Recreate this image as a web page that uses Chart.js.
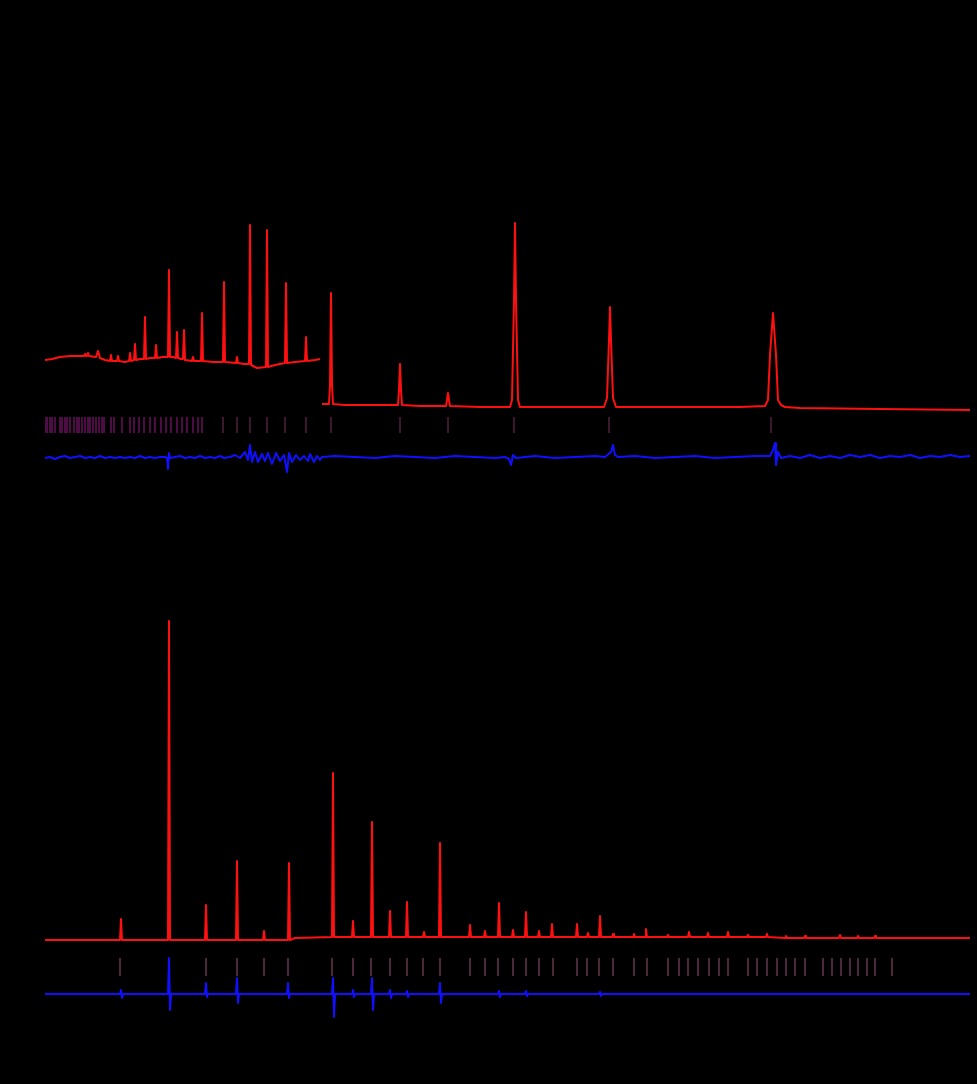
<!DOCTYPE html>
<html>
<head>
<meta charset="utf-8">
<script src="https://cdn.jsdelivr.net/npm/chart.js@4/dist/chart.umd.min.js"></script>
<style>
  html, body { margin: 0; padding: 0; background: #000; }
  #wrap { position: relative; width: 977px; height: 1084px; background: #000; }
  canvas { position: absolute; left: 0; display: block; }
  #top { top: 0; }
  #bottom { top: 542px; }
</style>
</head>
<body>
<div id="wrap">
  <canvas id="top" width="977" height="542"></canvas>
  <canvas id="bottom" width="977" height="542"></canvas>
</div>
<script>
// ---- top pattern: low-angle segment (observed/calculated, red)
const topLowTheta = [5.0, 5.7, 6.5, 7.5, 8.5, 8.9, 9.0, 9.1, 9.2, 9.3, 9.4, 10.1, 10.3, 10.5, 11.0,
  11.5, 11.6, 11.7, 12.2, 12.3, 12.4, 13.0, 13.4, 13.5, 13.6, 13.9, 14.0, 14.1, 14.5,
  14.9, 15.0, 15.1, 15.5, 16.0, 16.1, 16.2, 16.8, 17.3, 17.4, 17.5, 17.8, 18.1, 18.2, 18.3,
  18.6, 18.8, 18.9, 19.0, 19.7, 19.8, 19.9, 20.3, 20.6, 20.7, 20.8, 21.8, 22.8, 22.9, 23.0,
  24.1, 24.2, 24.3, 24.9, 25.4, 25.5, 25.6, 26.2, 27.1, 27.2, 27.3, 28.0, 29.0, 29.1, 29.2,
  30.0, 31.0, 31.1, 31.2, 32.0, 32.5];
const topLowInt = [120, 121, 123, 124, 124, 124, 126, 124, 124, 127, 124, 123, 129, 122, 120,
  119, 125, 119, 119, 124, 119, 118, 119, 127, 119, 120, 136, 120, 121,
  121, 163, 121, 122, 122, 135, 122, 123, 123, 210, 123, 123, 122, 148, 122,
  121, 121, 150, 120, 119, 123, 119, 119, 119, 167, 119, 118, 118, 198, 118,
  117, 123, 117, 116, 116, 255, 115, 112, 113, 250, 113, 115, 117, 197, 117,
  118, 119, 143, 119, 120, 121];

// ---- top pattern: high-angle segment (red)
const topHighTheta = [32.7, 33.4, 33.5, 33.6, 33.7, 33.8, 35.0, 38.5, 40.3, 40.4, 40.5, 40.6, 40.7,
  42.5, 45.1, 45.2, 45.3, 45.4, 45.5, 48.5, 51.5, 51.7, 51.9, 52.0, 52.1, 52.3, 52.5,
  56.5, 60.9, 61.2, 61.4, 61.5, 61.6, 61.8, 62.1, 68.5, 74.5, 77.0, 77.3, 77.5, 77.8,
  78.1, 78.3, 78.6, 79.0, 80.5, 88.5, 97.5];
const topHighInt = [76, 76, 95, 187, 95, 76, 75, 75, 75, 90, 116, 90, 75,
  74, 74, 80, 87, 80, 74, 73, 73, 80, 180, 257, 180, 80, 73,
  73, 73, 82, 140, 173, 140, 82, 73, 73, 73, 74, 80, 125, 167,
  125, 80, 75, 73, 72, 71, 70];

// ---- top difference curve (blue)
const topDiffTheta = [5.0, 5.5, 6.0, 6.5, 7.0, 7.5, 8.0, 8.5, 9.0, 9.5, 10.0, 10.5, 11.0, 11.5, 12.0,
  12.5, 13.0, 13.5, 14.0, 14.5, 15.0, 15.5, 16.0, 16.5, 17.0, 17.2, 17.3, 17.4, 17.5, 18.0,
  18.5, 19.0, 19.5, 20.0, 20.5, 21.0, 21.5, 22.0, 22.5, 22.9, 23.5, 24.0, 24.5, 25.0, 25.3,
  25.5, 25.7, 26.0, 26.3, 26.7, 27.0, 27.3, 27.7, 28.1, 28.5, 28.9, 29.2, 29.4, 29.7, 30.1,
  30.5, 30.9, 31.3, 31.5, 31.9, 32.2, 32.5, 32.7, 34.0, 36.0, 38.0, 40.0, 42.0, 44.0, 46.0,
  48.0, 50.0, 51.0, 51.4, 51.6, 51.8, 52.1, 54.0, 56.0, 58.0, 60.0, 61.0, 61.6, 61.8, 62.0,
  62.3, 64.0, 66.0, 68.0, 70.0, 72.0, 74.0, 76.0, 77.5, 77.8, 78.0, 78.1, 78.3,
  78.6, 79.5, 80.5, 81.5, 82.5, 83.5, 84.5, 85.5, 86.5, 87.5, 88.5, 89.5, 90.5, 91.5, 92.5,
  93.5, 94.5, 95.5, 96.5, 97.5];
const topDiffInt = [22, 23, 21, 23, 24, 22, 23, 24, 22, 23, 22, 24, 22, 23, 22,
  23, 22, 23, 22, 24, 22, 23, 22, 23, 23, 22, 11, 27, 22, 23,
  24, 22, 23, 22, 24, 22, 23, 22, 24, 22, 23, 25, 22, 28, 20,
  35, 18, 28, 18, 26, 19, 27, 16, 27, 19, 25, 8, 27, 18, 25,
  20, 24, 19, 26, 18, 24, 20, 23, 24, 23, 22, 24, 23, 22, 24,
  23, 22, 23, 21, 15, 25, 22, 24, 22, 23, 24, 23, 28, 35, 25,
  23, 24, 22, 23, 24, 22, 23, 24, 24, 30, 37, 15, 28,
  22, 24, 22, 25, 22, 24, 22, 25, 23, 25, 22, 24, 23, 25, 22,
  24, 23, 25, 23, 24];

// ---- top reflection markers
const topTicksA = [5.0, 5.2, 5.5, 5.7, 6.0, 6.5, 6.7, 7.0, 7.2, 7.5, 7.9, 8.2, 8.4, 8.7, 9.0, 9.3,
  9.5, 9.8, 10.1, 10.4, 10.7, 10.9, 11.6, 11.9, 12.7, 13.5, 13.9, 14.4, 14.9, 15.5, 16.0,
  16.6, 17.1, 17.6, 18.2, 18.7, 19.2, 19.8, 20.3, 20.7];
const topTicksB = [22.8, 24.2, 25.5, 27.2, 29.0, 31.1, 33.6, 40.5, 45.3, 51.9, 61.4, 77.6];
const topTickLevel = 55;

// ---- bottom pattern (red)
const botTheta = [5.0, 12.5, 12.6, 12.7, 17.3, 17.4, 17.5, 21.0, 21.1, 21.2, 24.1, 24.2, 24.3,
  26.8, 26.9, 27.0, 29.3, 29.4, 29.5, 30.0, 33.7, 33.8, 33.9, 35.7, 35.8, 35.9,
  37.6, 37.7, 37.8, 39.4, 39.5, 39.6, 41.1, 41.2, 41.3, 42.8, 42.9, 43.0, 44.4, 44.5, 44.6,
  47.4, 47.5, 47.6, 48.9, 49.0, 49.1, 50.3, 50.4, 50.5, 51.7, 51.8, 51.9, 53.0, 53.1, 53.2,
  54.3, 54.4, 54.5, 55.6, 55.7, 55.8, 58.1, 58.2, 58.3, 59.2, 59.3, 59.4, 60.4, 60.5, 60.6,
  61.7, 61.8, 61.9, 63.8, 63.9, 64.0, 65.0, 65.1, 65.2, 67.2, 67.3, 67.4, 69.3, 69.4, 69.5,
  71.2, 71.3, 71.4, 73.2, 73.3, 73.4, 75.2, 75.3, 75.4, 77.1, 77.2, 77.3, 79.0, 79.1, 79.2,
  80.9, 81.0, 81.1, 84.4, 84.5, 84.6, 86.2, 86.3, 86.4, 87.9, 88.0, 88.1, 97.5];
const botInt = [90, 90, 111, 90, 90, 409, 90, 90, 125, 90, 90, 169, 90,
  90, 99, 90, 90, 167, 90, 92, 93, 257, 93, 93, 109, 93,
  93, 208, 93, 93, 119, 93, 93, 128, 93, 93, 98, 93, 93, 187, 93,
  93, 105, 93, 93, 99, 93, 93, 127, 93, 93, 100, 93, 93, 118, 93,
  93, 99, 93, 93, 106, 93, 93, 106, 93, 93, 97, 93, 93, 114, 93,
  93, 96, 93, 93, 96, 93, 93, 101, 93, 93, 95, 93, 93, 98, 93,
  93, 97, 93, 93, 98, 93, 93, 95, 93, 93, 96, 93, 92, 94, 92,
  92, 94, 92, 92, 95, 92, 92, 94, 92, 92, 94, 92, 92];

// ---- bottom difference curve (blue)
const botDiffTheta = [5.0, 12.5, 12.6, 12.7, 12.8, 17.3, 17.4, 17.5, 17.6, 21.0, 21.1, 21.2, 21.3,
  24.1, 24.2, 24.3, 24.4, 29.2, 29.3, 29.4, 29.5, 33.7, 33.8, 33.9, 34.0, 35.7, 35.8, 35.9, 36.0,
  37.6, 37.7, 37.8, 37.9, 39.4, 39.5, 39.6, 39.7, 41.1, 41.2, 41.3, 41.4, 44.4, 44.5, 44.6, 44.7,
  50.3, 50.4, 50.5, 50.6, 53.0, 53.1, 53.2, 53.3, 60.4, 60.5, 60.6, 60.7, 97.5];
const botDiffInt = [36, 36, 40, 32, 36, 36, 72, 20, 36, 36, 47, 33, 36,
  36, 52, 27, 36, 36, 47, 32, 36, 36, 52, 13, 36, 36, 40, 33, 36,
  36, 52, 20, 36, 36, 40, 32, 36, 36, 39, 33, 36, 36, 47, 27, 36,
  36, 39, 33, 36, 36, 39, 34, 36, 36, 38, 34, 36, 36];

// ---- bottom reflection markers
const botTicks = [12.5, 17.4, 21.1, 24.2, 26.9, 29.3, 33.7, 35.8, 37.6, 39.5, 41.2, 42.8, 44.5,
  47.5, 49.0, 50.3, 51.8, 53.1, 54.4, 55.8, 58.2, 59.2, 60.4, 61.8, 63.9, 65.2, 67.3, 68.4,
  69.3, 70.3, 71.4, 72.4, 73.3, 75.3, 76.2, 77.2, 78.2, 79.1, 80.0, 81.0, 82.8, 83.7, 84.6,
  85.5, 86.3, 87.2, 88.0, 89.7];
const botTickLevel = 63;

const RED = "#ff1010";
const BLUE = "#1010ff";

function pts(xs, ys) {
  return xs.map((x, i) => ({ x: x, y: ys[i] }));
}
function ticks(xs, level) {
  return xs.map((x) => ({ x: x, y: level }));
}
function lineSet(data, color) {
  return {
    type: "line",
    data: data,
    borderColor: color,
    borderWidth: 2,
    borderJoinStyle: "round",
    pointRadius: 0,
    tension: 0,
    fill: false,
  };
}
function tickSet(data, color, r) {
  return {
    type: "scatter",
    data: data,
    showLine: false,
    pointStyle: "line",
    rotation: 90,
    pointRadius: r,
    pointHoverRadius: r,
    borderWidth: 1,
    borderColor: color,
    backgroundColor: color,
  };
}
function makeChart(id, datasets, yMax, padding) {
  return new Chart(document.getElementById(id), {
    type: "line",
    data: { datasets: datasets },
    options: {
      responsive: false,
      animation: false,
      layout: { padding: padding, autoPadding: false },
      plugins: { legend: { display: false }, tooltip: { enabled: false } },
      scales: {
        x: { type: "linear", min: 5, max: 97.5, display: false },
        y: { min: 0, max: yMax, display: false },
      },
    },
  });
}

// top panel: chart area 200..480 px
makeChart("top", [
  lineSet(pts(topLowTheta, topLowInt), RED),
  lineSet(pts(topHighTheta, topHighInt), RED),
  lineSet(pts(topDiffTheta, topDiffInt), BLUE),
  tickSet(ticks(topTicksA, topTickLevel), "#9a1a88", 8),
  tickSet(ticks(topTicksB, topTickLevel), "#7a3058", 8),
], 280, { left: 45, right: 7, top: 200, bottom: 62 });

// bottom panel: chart area 600..1030 px (page)
makeChart("bottom", [
  lineSet(pts(botTheta, botInt), RED),
  lineSet(pts(botDiffTheta, botDiffInt), BLUE),
  tickSet(ticks(botTicks, botTickLevel), "#9a5078", 9),
], 430, { left: 45, right: 7, top: 58, bottom: 54 });
</script>
</body>
</html>
